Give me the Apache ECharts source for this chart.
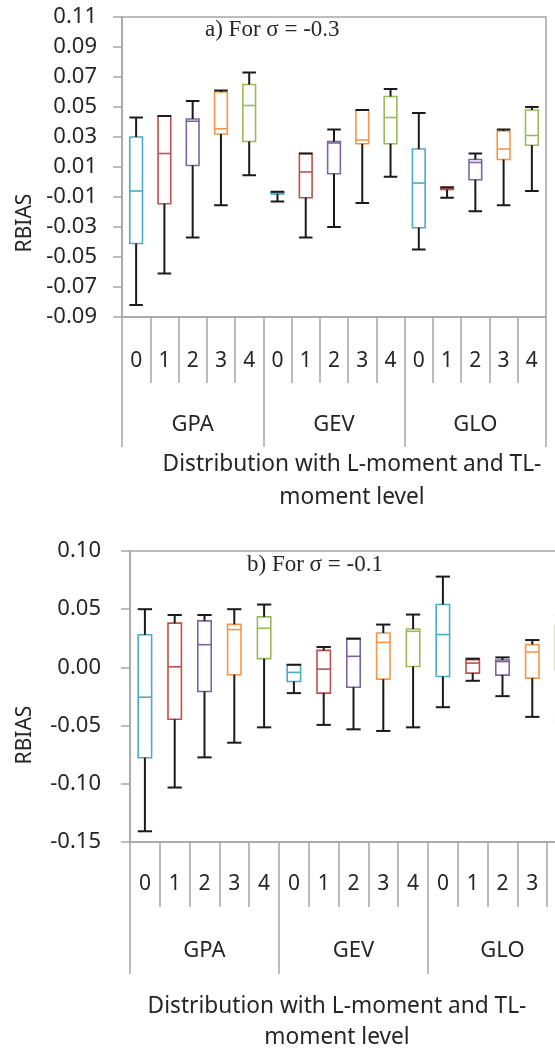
<!DOCTYPE html>
<html><head><meta charset="utf-8">
<script src="https://cdn.jsdelivr.net/npm/echarts@6/dist/echarts.min.js"></script>
<style>html,body{margin:0;padding:0;background:#fff}#c{width:555px;height:1053px}</style>
</head><body><div id="c"></div>
<script>
// ---- data ----
const categories = ['0','1','2','3','4','0','1','2','3','4','0','1','2','3','4'];
const groups = ['GPA','GEV','GLO'];
const levelColors = ['#4BACC6','#C0504D','#8064A2','#F79646','#9BBB59'];
const yTicksA = [-0.09, 0.11, 0.02];
const yTicksB = [-0.15, 0.10, 0.05];

// a) sigma = -0.3   (GPA0..4, GEV0..4, GLO0..4)
const aHigh = [0.043, 0.044, 0.054, 0.061, 0.073, -0.0065, 0.019, 0.035, 0.048, 0.062, 0.046, -0.0035, 0.019, 0.035, 0.050];
const aQ3   = [0.030, 0.044, 0.042, 0.060, 0.065, -0.0068, 0.019, 0.027, 0.048, 0.057, 0.022, -0.004, 0.015, 0.034, 0.048];
const aMed  = [-0.006, 0.019, 0.0405, 0.0355, 0.051, -0.0075, 0.0067, 0.026, 0.028, 0.043, -0.0007, -0.0045, 0.013, 0.022, 0.031];
const aQ1   = [-0.041, -0.0145, 0.011, 0.032, 0.027, -0.008, -0.0105, 0.0055, 0.0255, 0.0255, -0.0305, -0.005, 0.0015, 0.015, 0.0245];
const aLow  = [-0.082, -0.061, -0.037, -0.0155, 0.0045, -0.013, -0.037, -0.030, -0.014, 0.0035, -0.045, -0.0105, -0.0195, -0.0155, -0.006];

// b) sigma = -0.1
const bHigh = [0.050, 0.045, 0.045, 0.050, 0.054, 0.0023, 0.0175, 0.0247, 0.0368, 0.0454, 0.078, 0.0075, 0.0086, 0.0235, 0.045];
const bQ3   = [0.028, 0.038, 0.040, 0.037, 0.0434, 0.0023, 0.0146, 0.0247, 0.0296, 0.033, 0.054, 0.0066, 0.0063, 0.0196, 0.036];
const bMed  = [-0.0256, 0.0005, 0.0195, 0.0325, 0.0336, -0.0043, -0.0015, 0.0095, 0.0215, 0.031, 0.0282, 0.0037, 0.005, 0.0132, 0.025];
const bQ1   = [-0.0776, -0.0446, -0.0207, -0.0063, 0.0075, -0.0121, -0.0221, -0.017, -0.0101, 0.0008, -0.0078, -0.0049, -0.0066, -0.0092, -0.0017];
const bLow  = [-0.1408, -0.1032, -0.0773, -0.0647, -0.0515, -0.0221, -0.0494, -0.0532, -0.0546, -0.0515, -0.0342, -0.0115, -0.0247, -0.0425, -0.0457];

// ---- styles ----
const gray = '#a6a6a6';
const txt = '#262626';
const sans = 'Noto Sans';
const serif = 'Liberation Serif';

function build(low, q1, med, q3, high) {
  return categories.map((c, i) => [i, low[i], q1[i], med[i], q3[i], high[i]]);
}

function renderBox(params, api) {
  const i = api.value(0);
  const pl = api.coord([i, api.value(1)]);
  const p1 = api.coord([i, api.value(2)]);
  const pm = api.coord([i, api.value(3)]);
  const p3 = api.coord([i, api.value(4)]);
  const ph = api.coord([i, api.value(5)]);
  const band = api.size([1, 0])[0];
  const bw = band * 0.45, cw = band * 0.48;
  const cx = p1[0];
  const color = levelColors[i % 5];
  const blk = {stroke: '#1a1a1a', lineWidth: 2};
  return {type: 'group', children: [
    {type: 'rect', shape: {x: cx - bw / 2, y: p3[1], width: bw, height: p1[1] - p3[1]}, style: {fill: '#fff', stroke: color, lineWidth: 1.6}},
    {type: 'line', shape: {x1: cx - bw / 2, y1: pm[1], x2: cx + bw / 2, y2: pm[1]}, style: {stroke: color, lineWidth: 1.6}},
    {type: 'line', shape: {x1: cx, y1: p3[1], x2: cx, y2: ph[1]}, style: blk},
    {type: 'line', shape: {x1: cx - cw / 2, y1: ph[1], x2: cx + cw / 2, y2: ph[1]}, style: blk},
    {type: 'line', shape: {x1: cx, y1: p1[1], x2: cx, y2: pl[1]}, style: blk},
    {type: 'line', shape: {x1: cx - cw / 2, y1: pl[1], x2: cx + cw / 2, y2: pl[1]}, style: blk}
  ]};
}

function fmt(v) { return Math.abs(v) < 1e-9 ? '0.00' : v.toFixed(2); }

function xAxes(gi, m1, t1, m2, t2) {
  return [
    {type: 'category', gridIndex: gi, data: categories, position: 'bottom',
     axisLine: {onZero: false, lineStyle: {color: gray, width: 1.5}},
     axisTick: {show: true, interval: 0, length: t1, lineStyle: {color: gray, width: 1.5}},
     axisLabel: {interval: 0, margin: m1, fontSize: 21, fontFamily: sans, color: txt},
     splitLine: {show: false}},
    {type: 'category', gridIndex: gi, data: groups, position: 'bottom',
     axisLine: {show: false, onZero: false},
     axisTick: {show: true, interval: 0, length: t2, lineStyle: {color: gray, width: 1.5}},
     axisLabel: {interval: 0, margin: m2, fontSize: 22, fontFamily: sans, color: txt},
     splitLine: {show: false}}
  ];
}

function yAxis(gi, t, margin) {
  return {type: 'value', gridIndex: gi, min: t[0], max: t[1], interval: t[2],
    axisLine: {show: true, onZero: false, lineStyle: {color: gray, width: 1.5}},
    axisTick: {show: true, length: 9, lineStyle: {color: gray, width: 1.5}},
    axisLabel: {margin: margin, fontSize: 22, fontFamily: sans, color: txt, formatter: fmt},
    splitLine: {show: false}};
}

const chart = echarts.init(document.getElementById('c'), null, {renderer: 'canvas'});
chart.setOption({
  animation: false,
  backgroundColor: '#fff',
  grid: [
    {left: 122, top: 17, width: 424, height: 300, show: true, borderColor: gray, borderWidth: 1.5, outerBoundsMode: 'none', containLabel: false},
    {left: 130, top: 551, width: 447, height: 291, show: true, borderColor: gray, borderWidth: 1.5, outerBoundsMode: 'none', containLabel: false}
  ],
  xAxis: [].concat(xAxes(0, 34, 66, 97, 130), xAxes(1, 32, 65, 98, 132)),
  yAxis: [yAxis(0, yTicksA, 25), yAxis(1, yTicksB, 29)],
  series: [
    {type: 'custom', xAxisIndex: 0, yAxisIndex: 0, renderItem: renderBox,
     encode: {x: 0, y: [1, 2, 3, 4, 5]}, data: build(aLow, aQ1, aMed, aQ3, aHigh)},
    {type: 'custom', xAxisIndex: 2, yAxisIndex: 1, renderItem: renderBox,
     encode: {x: 0, y: [1, 2, 3, 4, 5]}, data: build(bLow, bQ1, bMed, bQ3, bHigh)}
  ],
  graphic: [
    {type: 'text', x: 205, y: 30, style: {text: 'a) For σ = -0.3', fontSize: 23, fontFamily: serif, fill: txt, align: 'left', verticalAlign: 'middle'}},
    {type: 'text', x: 247, y: 565, style: {text: 'b) For σ = -0.1', fontSize: 23, fontFamily: serif, fill: txt, align: 'left', verticalAlign: 'middle'}},
    {type: 'text', x: 25, y: 223, rotation: Math.PI / 2, style: {text: 'RBIAS', fontSize: 21, fontFamily: sans, fill: txt, align: 'center', verticalAlign: 'middle'}},
    {type: 'text', x: 25, y: 735, rotation: Math.PI / 2, style: {text: 'RBIAS', fontSize: 21, fontFamily: sans, fill: txt, align: 'center', verticalAlign: 'middle'}},
    {type: 'text', x: 352, y: 465, style: {text: 'Distribution with L-moment and TL-', fontSize: 22.7, fontFamily: sans, fill: txt, align: 'center', verticalAlign: 'middle'}},
    {type: 'text', x: 352, y: 498, style: {text: 'moment level', fontSize: 22.7, fontFamily: sans, fill: txt, align: 'center', verticalAlign: 'middle'}},
    {type: 'text', x: 337, y: 1007, style: {text: 'Distribution with L-moment and TL-', fontSize: 22.7, fontFamily: sans, fill: txt, align: 'center', verticalAlign: 'middle'}},
    {type: 'text', x: 337, y: 1038, style: {text: 'moment level', fontSize: 22.7, fontFamily: sans, fill: txt, align: 'center', verticalAlign: 'middle'}}
  ]
});
</script>
</body></html>
